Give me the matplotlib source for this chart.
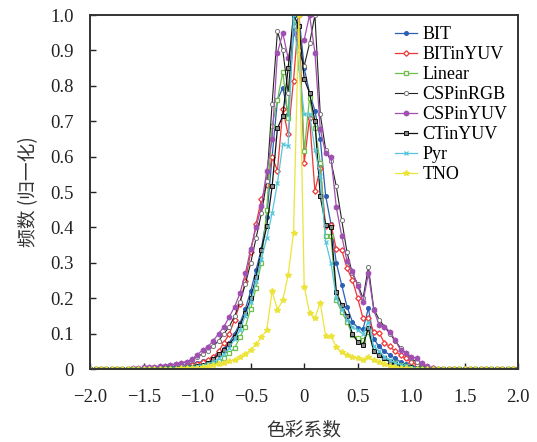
import numpy as np
import matplotlib
matplotlib.use('Agg')
import matplotlib.pyplot as plt

plt.rcParams['font.family'] = ['Liberation Serif', 'Noto Sans CJK SC']
plt.rcParams['axes.unicode_minus'] = True

# x grid of the histogram bins (-2.0 .. 2.0, step 0.05)
x = np.linspace(-2.0, 2.0, 81)

bit = [0, 0, 0, 0, 0, 0, 0, 0, 0.001, 0.002,
       0.002, 0.003, 0.003, 0.004, 0.005, 0.006, 0.008, 0.01, 0.012, 0.015,
       0.018, 0.022, 0.027, 0.034, 0.044, 0.058, 0.075, 0.1, 0.13, 0.17,
       0.22, 0.28, 0.34, 0.43, 0.6, 0.76, 0.795, 0.72, 0.95, 1.0,
       0.85, 0.78, 0.73, 0.65, 0.49, 0.41, 0.30, 0.238, 0.176, 0.134,
       0.117, 0.113, 0.172, 0.085, 0.064, 0.05, 0.04, 0.03, 0.02, 0.014,
       0.009, 0.005, 0.003, 0.002, 0.001, 0, 0, 0, 0, 0,
       0, 0, 0, 0, 0, 0, 0, 0, 0, 0,
       0]

bit_yuv = [0, 0, 0, 0, 0, 0, 0, 0.001, 0.001, 0.001,
           0.001, 0.002, 0.002, 0.003, 0.003, 0.004, 0.005, 0.006, 0.008, 0.011,
           0.015, 0.02, 0.025, 0.035, 0.05, 0.075, 0.1, 0.14, 0.185, 0.25,
           0.33, 0.41, 0.48, 0.52, 0.6, 0.56, 0.734, 0.663, 0.815, 1.0,
           0.583, 0.71, 0.502, 0.569, 0.403, 0.408, 0.339, 0.337, 0.285, 0.252,
           0.2, 0.143, 0.143, 0.105, 0.103, 0.073, 0.064, 0.05, 0.04, 0.03,
           0.02, 0.012, 0.007, 0.004, 0.002, 0.001, 0, 0, 0, 0,
           0, 0, 0, 0, 0, 0, 0, 0, 0, 0,
           0]

linear = [0, 0, 0, 0, 0, 0, 0, 0, 0, 0.001,
          0.001, 0.001, 0.002, 0.002, 0.003, 0.003, 0.004, 0.005, 0.006, 0.007,
          0.008, 0.01, 0.013, 0.017, 0.022, 0.03, 0.045, 0.06, 0.09, 0.12,
          0.17, 0.23, 0.30, 0.45, 0.686, 0.76, 0.84, 0.71, 1.0, 0.93,
          0.615, 0.767, 0.68, 0.583, 0.375, 0.375, 0.195, 0.162, 0.134, 0.096,
          0.088, 0.083, 0.105, 0.05, 0.04, 0.03, 0.022, 0.016, 0.011, 0.008,
          0.005, 0.003, 0.002, 0.001, 0, 0, 0, 0, 0, 0,
          0, 0, 0, 0, 0, 0, 0, 0, 0, 0,
          0]

csp_rgb = [0, 0, 0, 0, 0, 0, 0, 0, 0.001, 0.002,
           0.003, 0.004, 0.005, 0.007, 0.009, 0.011, 0.014, 0.017, 0.021, 0.027,
           0.035, 0.043, 0.052, 0.065, 0.08, 0.1, 0.12, 0.15, 0.19, 0.24,
           0.30, 0.37, 0.44, 0.53, 0.75, 0.955, 0.90, 0.78, 0.97, 0.90,
           0.856, 0.92, 1.0, 0.72, 0.62, 0.587, 0.516, 0.422, 0.33, 0.27,
           0.24, 0.2, 0.288, 0.17, 0.14, 0.12, 0.1, 0.08, 0.06, 0.045,
           0.03, 0.02, 0.012, 0.006, 0.003, 0.001, 0, 0, 0, 0,
           0, 0, 0, 0, 0, 0, 0, 0, 0, 0,
           0]

csp_yuv = [0, 0, 0, 0, 0, 0, 0, 0, 0.002, 0.003,
           0.005, 0.006, 0.007, 0.008, 0.01, 0.012, 0.014, 0.017, 0.02, 0.028,
           0.04, 0.054, 0.063, 0.08, 0.1, 0.12, 0.148, 0.176, 0.215, 0.27,
           0.34, 0.40, 0.46, 0.56, 0.65, 0.894, 0.949, 0.878, 0.95, 0.925,
           0.93, 1.0, 0.894, 0.677, 0.61, 0.599, 0.457, 0.377, 0.304, 0.276,
           0.235, 0.19, 0.27, 0.167, 0.125, 0.12, 0.106, 0.082, 0.054, 0.046,
           0.035, 0.03, 0.016, 0.008, 0.004, 0.001, 0.001, 0, 0, 0,
           0, 0, 0, 0, 0, 0, 0, 0, 0, 0,
           0]

ct_yuv = [0, 0, 0, 0, 0, 0, 0, 0, 0, 0,
          0, 0, 0.001, 0.001, 0.002, 0.002, 0.003, 0.004, 0.005, 0.007,
          0.009, 0.012, 0.018, 0.028, 0.042, 0.055, 0.07, 0.09, 0.125, 0.158,
          0.2, 0.26, 0.337, 0.403, 0.516, 0.68, 0.715, 0.85, 1.0, 0.97,
          0.82, 0.78, 0.70, 0.488, 0.408, 0.40, 0.219, 0.181, 0.15, 0.1,
          0.077, 0.068, 0.115, 0.05, 0.04, 0.03, 0.02, 0.015, 0.01, 0.007,
          0.005, 0.003, 0.002, 0.001, 0, 0, 0, 0, 0, 0,
          0, 0, 0, 0, 0, 0, 0, 0, 0, 0,
          0]

pyr = [0, 0, 0, 0, 0, 0, 0, 0, 0, 0,
       0, 0, 0.001, 0.001, 0.002, 0.002, 0.003, 0.004, 0.005, 0.006,
       0.008, 0.011, 0.015, 0.02, 0.03, 0.042, 0.06, 0.085, 0.11, 0.15,
       0.19, 0.25, 0.31, 0.37, 0.44, 0.526, 0.635, 0.63, 1.0, 0.85,
       0.72, 0.72, 0.62, 0.545, 0.36, 0.30, 0.2, 0.17, 0.14, 0.12,
       0.11, 0.1, 0.134, 0.064, 0.05, 0.035, 0.025, 0.018, 0.012, 0.008,
       0.005, 0.003, 0.002, 0.001, 0, 0, 0, 0, 0, 0,
       0, 0, 0, 0, 0, 0, 0, 0, 0, 0,
       0]

tno = [0, 0, 0, 0, 0, 0, 0, 0, 0, 0,
       0, 0, 0, 0.001, 0.001, 0.001, 0.001, 0.002, 0.002, 0.003,
       0.003, 0.005, 0.008, 0.011, 0.014, 0.018, 0.022, 0.027, 0.035, 0.043,
       0.054, 0.07, 0.09, 0.11, 0.22, 0.167, 0.195, 0.266, 0.384, 1.0,
       0.233, 0.158, 0.144, 0.188, 0.093, 0.092, 0.063, 0.047, 0.04, 0.035,
       0.03, 0.026, 0.033, 0.025, 0.02, 0.015, 0.01, 0.007, 0.004, 0.002,
       0.001, 0, 0, 0, 0, 0, 0, 0, 0, 0,
       0, 0, 0, 0, 0, 0, 0, 0, 0, 0,
       0]

fig = plt.figure(figsize=(5.37, 4.42), dpi=100)
ax = fig.add_axes([0.168, 0.165, 0.797, 0.801])

ax.plot(x, bit, color='#2b5fb4', lw=0.9, marker='o', ms=2.6, label='BIT')
ax.plot(x, bit_yuv, color='#f03535', lw=0.9, marker='D', ms=2.8, mfc='white', mew=0.9, label='BITinYUV')
ax.plot(x, linear, color='#6cbf4a', lw=0.9, marker='s', ms=2.8, mfc='white', mew=0.9, label='Linear')
ax.plot(x, csp_rgb, color='#222222', lw=0.8, marker='o', ms=3, mfc='white', mec='#777777', mew=0.7, label='CSPinRGB')
ax.plot(x, csp_yuv, color='#a050b0', lw=0.9, marker='h', ms=3.4, label='CSPinYUV')
ax.plot(x, ct_yuv, color='#111111', lw=0.9, marker='s', ms=2.8, mfc='#888888', mew=0.7, label='CTinYUV')
ax.plot(x, pyr, color='#55c6dc', lw=0.9, marker='x', ms=2.8, mew=0.9, label='Pyr')
ax.plot(x, tno, color='#ece43a', lw=0.9, marker='*', ms=4.2, label='TNO')

ax.set_xlim(-2.0, 2.0)
ax.set_ylim(0, 1.0)
ax.set_xticks(np.arange(-2.0, 2.01, 0.5))
ax.set_xticklabels(['\u22122.0', '\u22121.5', '\u22121.0', '\u22120.5', '0', '0.5', '1.0', '1.5', '2.0'])
ax.set_yticks(np.arange(0, 1.01, 0.1))
ax.set_yticklabels(['0', '0.1', '0.2', '0.3', '0.4', '0.5', '0.6', '0.7', '0.8', '0.9', '1.0'])
ax.tick_params(direction='in', length=4, width=1, labelsize=13.5, colors='#222222')
ax.tick_params(axis='x', pad=14)
ax.tick_params(axis='y', pad=12)

for s in ax.spines.values():
    s.set_linewidth(1.4)
    s.set_color('#333333')

ax.set_xlabel('色彩系数', fontsize=13.5, family=['Noto Sans CJK SC'], labelpad=10, color='#333333')
ax.set_ylabel('频数 (归一化)', fontsize=13.5, family=['Noto Sans CJK SC'], labelpad=8, color='#333333')

ax.legend(loc='upper right', frameon=False, fontsize=13, handlelength=1.2,
          handletextpad=0.3, labelspacing=0.17, borderaxespad=0.3, borderpad=0.3)

fig.savefig('out.png', dpi=100)
